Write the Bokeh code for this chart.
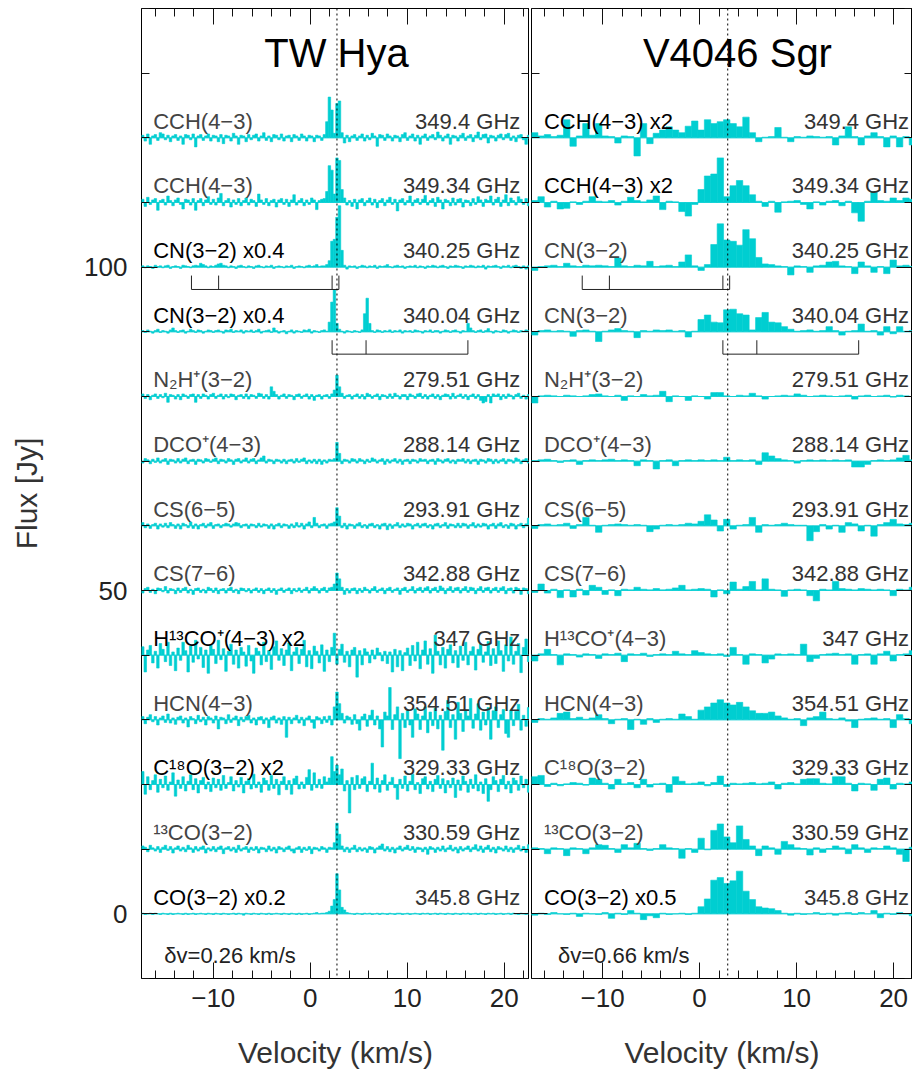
from bokeh.plotting import figure
from bokeh.models import Range1d, LinearAxis, SingleIntervalTicker, Span, ColumnDataSource
from bokeh.layouts import row
from bokeh.embed import file_html
from bokeh.resources import INLINE
from bokeh.core.properties import value

FONT = "Liberation Sans"
CYAN = "#00CED1"

# ---------------- data ----------------
offsets = [0, 10, 20, 30, 40, 50, 60, 70, 80, 90, 100, 110, 120]
freq_labels = ["345.8 GHz", "330.59 GHz", "329.33 GHz", "354.51 GHz", "347 GHz", "342.88 GHz",
               "293.91 GHz", "288.14 GHz", "279.51 GHz", "340.04 GHz", "340.25 GHz",
               "349.34 GHz", "349.4 GHz"]
tw_names = ["CO(3\u22122) x0.2", "\u00b9\u00b3CO(3\u22122)", "C\u00b9\u2078O(3\u22122) x2", "HCN(4\u22123)",
            "H\u00b9\u00b3CO\u207a(4\u22123) x2", "CS(7\u22126)", "CS(6\u22125)", "DCO\u207a(4\u22123)",
            "N\u2082H\u207a(3\u22122)", "CN(3\u22122) x0.4", "CN(3\u22122) x0.4", "CCH(4\u22123)", "CCH(4\u22123)"]
v4_names = ["CO(3\u22122) x0.5", "\u00b9\u00b3CO(3\u22122)", "C\u00b9\u2078O(3\u22122)", "HCN(4\u22123)",
            "H\u00b9\u00b3CO\u207a(4\u22123)", "CS(7\u22126)", "CS(6\u22125)", "DCO\u207a(4\u22123)",
            "N\u2082H\u207a(3\u22122)", "CN(3\u22122)", "CN(3\u22122)", "CCH(4\u22123) x2", "CCH(4\u22123) x2"]
tw_scaled = [True, False, True, False, True, False, False, False, False, True, True, False, False]
v4_scaled = [True, False, False, False, False, False, False, False, False, False, False, True, True]

tw_title = "TW Hya"
v4_title = "V4046 Sgr"
tw_vsys = 2.75
v4_vsys = 2.9
tw_v0, tw_dv = -17.4, 0.26
v4_v0, v4_dv = -17.33, 0.66
tw_dv_label = "\u03b4v=0.26 km/s"
v4_dv_label = "\u03b4v=0.66 km/s"

# CN hyperfine component offsets from systemic velocity (km/s)
cn_hfs_340_25 = [-15.0, -12.2, -0.5, 0.2]
cn_hfs_340_04 = [-0.5, 3.0, 13.5]

# ---- TW Hya spectra (Jy, channel 0.26 km/s) ----
tw_co = [0.1,-0.1,0.0,0.1,-0.1,0.1,0.0,-0.1,0.1,0.0,-0.1,0.1,-0.1,0.0,
         0.1,0.0,-0.1,0.1,-0.1,0.0,0.1,-0.1,0.0,0.1,0.0,-0.1,0.1,0.0,
         -0.1,0.1,0.0,-0.1,0.1,0.0,-0.1,0.0,0.1,-0.1,0.1,0.0,-0.2,0.1,
         0.0,-0.1,0.1,0.0,-0.1,0.1,0.0,-0.1,0.1,-0.1,0.0,0.1,0.0,-0.1,
         0.1,0.0,-0.1,0.1,0.0,-0.1,0.1,-0.1,0.0,0.1,-0.1,0.0,0.1,0.2,
         0.0,0.1,0.1,0.2,0.4,1.2,2.2,6.2,3.7,1.0,0.6,0.2,0.1,0.0,
         -0.1,0.1,0.0,-0.1,0.1,0.0,0.1,-0.1,0.0,0.1,-0.1,0.1,0.0,-0.1,
         0.1,0.0,-0.1,0.1,0.1,-0.1,0.0,0.1,-0.1,0.0,0.1,0.0,-0.1,0.1,
         0.0,0.1,-0.1,0.0,0.1,-0.1,0.1,0.0,-0.1,0.1,0.0,-0.1,0.1,0.0,
         -0.1,0.1,0.0,0.1,-0.1,0.0,0.1,-0.1,0.1,0.0,-0.1,0.1,0.0,0.1,
         -0.1,0.0,0.1,-0.1,0.0,0.1,-0.1,0.1,0.0,-0.1,0.1,0.0,-0.1,0.1]
tw_13co = [0.5,0.3,-0.4,0.6,0.2,-0.3,0.4,-0.5,0.3,0.6,-0.2,0.4,-0.6,0.2,
           0.5,-0.3,0.3,-0.4,0.6,0.2,-0.5,0.4,-0.3,0.3,0.5,-0.6,0.2,-0.3,
           0.4,-0.4,0.3,0.5,-0.7,0.2,0.4,-0.3,0.3,-0.5,0.6,-0.3,0.2,0.4,
           -0.5,0.3,-0.2,0.4,-0.6,0.3,0.2,-0.4,0.5,-0.3,0.3,-0.6,0.4,0.2,
           -0.4,0.3,0.5,-0.3,-0.6,0.2,0.4,-0.5,0.3,-0.2,0.4,-0.7,0.3,0.2,
           -0.3,0.4,0.2,-0.5,0.3,0.2,1.0,4.0,2.3,0.5,-0.4,0.3,-0.5,0.2,
           0.6,-0.4,0.3,-0.3,0.2,-0.5,0.4,0.3,-0.6,0.2,0.5,0.8,-0.3,0.4,
           -0.4,0.3,-0.6,0.2,0.5,-0.3,0.3,0.6,-0.2,0.4,-0.5,0.3,0.2,-0.4,
           0.3,-0.8,0.4,0.2,-0.5,0.3,-0.3,0.5,-0.4,0.2,0.6,-0.3,0.3,-0.6,
           0.4,-0.3,0.2,0.5,-0.4,0.3,0.7,-0.3,0.5,-0.5,0.3,0.6,-0.4,0.3,
           -0.6,0.4,0.2,-0.3,0.5,-0.4,0.3,-0.5,0.2,0.6,-0.3,0.4,-0.5,0.7]
tw_c18o = [2.0,-1.5,1.2,-0.8,0.6,1.5,-1.2,0.8,-0.5,1.3,-0.9,0.4,1.8,-1.8,
           0.7,-0.6,1.2,-1.0,0.5,1.5,-0.8,0.9,-1.3,0.6,1.1,-0.7,0.4,-1.1,
           1.0,-0.5,0.8,-0.9,1.4,-0.6,0.3,1.2,-1.0,0.6,-0.4,1.1,-1.3,0.5,
           0.9,-0.7,1.6,-0.5,0.4,-1.2,1.0,0.6,-0.9,1.4,-0.6,0.8,-1.6,0.5,
           1.2,-0.8,0.6,-1.5,0.9,1.3,-0.7,0.4,-0.6,1.1,2.3,-0.9,1.8,-0.5,
           0.8,-0.6,1.2,0.4,1.0,4.3,2.0,3.0,1.5,2.4,-1.0,0.6,-4.4,1.1,
           -0.8,1.4,-0.6,0.9,1.2,-1.1,0.5,3.3,-0.7,1.0,-1.2,0.6,1.5,-0.9,
           0.4,1.1,-0.5,-2.3,0.8,-0.6,1.3,-1.0,0.5,1.6,-0.8,0.3,-1.4,0.9,
           1.2,-0.7,0.5,-1.1,0.8,1.4,-0.6,0.9,-1.3,0.6,-0.5,1.0,-2.0,0.7,
           -0.9,1.3,0.5,-1.2,0.8,-0.6,1.5,-1.0,0.4,-1.4,0.9,-2.6,-0.8,1.2,
           0.6,-1.1,0.8,1.4,-0.7,0.5,-1.3,1.0,0.6,-0.9,1.3,-0.5,0.8,-1.2]
tw_hcn = [0.5,-0.6,0.4,0.8,-0.3,0.5,-0.8,0.3,0.6,-0.4,0.9,-0.5,0.3,-0.7,
          0.4,0.6,-0.5,0.3,-1.1,0.5,0.2,-0.6,0.7,-0.3,0.4,-0.8,0.5,0.3,
          -0.5,0.6,-1.4,0.4,0.3,-0.6,0.8,-0.4,0.3,0.6,-0.9,0.4,-0.3,0.5,
          0.7,-0.5,0.3,-0.8,0.4,0.5,-0.6,0.3,-1.2,0.4,0.6,-0.5,0.3,-0.7,
          0.5,-2.7,0.4,-0.6,0.3,0.7,-0.5,0.4,-0.9,0.3,0.6,-0.4,-1.3,0.5,
          0.3,-0.6,0.5,-0.4,0.6,-0.8,2.0,4.3,2.5,1.0,-0.5,0.6,0.4,-0.7,
          0.8,-0.6,-1.6,0.5,0.9,-1.0,0.7,1.5,-0.8,0.6,-1.4,-4.2,1.2,0.6,
          5.0,-1.5,0.8,2.0,-6.0,1.0,-1.2,1.4,-0.8,-2.7,1.7,0.9,-1.5,0.6,
          2.0,-2.0,1.2,-0.9,1.8,-1.4,0.7,-4.7,1.3,3.0,-1.2,0.8,-3.0,2.7,
          1.0,-1.8,1.5,0.6,3.3,-1.3,0.9,2.5,-1.6,1.2,-0.8,1.9,-3.0,1.4,
          2.0,-1.2,0.8,1.6,-2.1,-2.7,1.5,-0.9,1.3,2.4,-1.6,0.7,-1.0,1.9]
tw_h13cop = [1.3,-2.6,0.8,1.5,-1.2,0.6,-2.0,1.8,0.9,-1.0,2.0,-1.6,0.5,-2.4,
             1.1,-0.8,2.0,0.7,-2.6,1.4,-1.1,2.3,-0.6,1.2,-1.9,0.8,-2.8,1.6,
             0.9,-1.3,2.3,-0.7,1.0,-2.5,0.6,1.7,-1.4,0.8,-2.0,1.2,0.5,-1.7,
             1.5,-0.9,-2.8,1.1,0.6,-1.5,2.0,-1.0,0.7,-2.2,1.3,2.2,-0.8,1.0,
             -1.6,0.8,1.9,-2.4,0.5,1.2,-1.3,0.9,2.3,-1.8,0.7,-2.1,1.4,0.6,
             -1.2,1.6,-2.5,0.8,-1.0,1.2,3.4,-1.4,0.9,1.7,-1.1,0.6,-1.8,0.8,
             1.2,-3.4,0.7,-1.5,1.0,0.5,-1.2,0.8,-0.6,1.1,0.4,-0.9,0.6,-1.3,
             0.5,-2.6,0.9,-1.8,0.7,-2.4,0.4,1.1,-1.6,1.5,-0.9,2.0,-2.1,0.8,
             2.2,-1.4,1.0,-2.8,3.1,0.6,-1.5,1.2,-2.0,0.9,1.6,-1.2,0.7,-1.9,
             1.4,-0.8,2.0,-1.5,0.6,1.3,-2.3,0.9,1.7,-1.1,0.5,2.1,-1.6,1.0,
             -1.3,2.2,0.7,-2.5,1.6,-0.9,2.8,-1.4,0.6,1.8,-2.7,1.2,2.5,-1.0]
tw_cs76 = [-0.4,0.3,0.5,-0.3,0.2,-0.5,0.4,0.3,-0.2,0.6,-0.4,0.3,0.2,-0.5,
           0.4,-0.3,0.3,0.5,-0.4,0.2,-0.6,0.3,0.4,-0.3,0.2,-0.4,0.5,0.3,
           -0.3,0.4,-0.5,0.2,0.3,-0.4,0.3,0.5,-0.3,0.2,-0.5,0.4,0.3,-0.2,
           0.3,-0.4,0.2,0.4,-0.3,0.3,-0.5,0.2,0.4,-0.3,0.3,-0.6,0.2,0.4,
           -0.3,0.2,0.4,-0.5,0.3,-0.2,0.4,-0.3,0.2,0.5,-0.4,0.3,0.6,0.3,
           -0.4,0.3,0.5,-0.3,0.4,0.5,1.0,2.7,1.8,0.5,-0.6,0.3,-0.4,0.3,
           0.4,-0.5,0.3,-0.3,0.5,0.2,-0.4,0.3,0.6,-0.3,0.2,0.4,-0.5,0.3,
           0.5,-0.3,0.2,0.4,-0.6,0.3,0.5,-0.3,0.2,0.6,-0.4,0.3,0.5,-0.3,
           0.4,0.6,-0.4,0.3,0.5,-0.3,0.7,0.4,-0.5,0.3,0.6,-0.3,0.4,0.5,
           -0.4,0.3,0.6,-0.3,0.5,0.4,-0.5,0.3,0.6,-0.3,0.4,0.5,-0.4,0.3,
           0.5,-0.3,0.4,0.6,-0.5,0.3,0.4,-0.4,0.5,0.3,-0.6,0.4,0.3,-0.5]
tw_cs65 = [0.5,-0.3,0.3,-0.4,0.2,0.4,-0.5,0.3,-0.2,0.4,-0.3,0.5,0.2,-0.4,
           0.3,-0.5,0.4,0.2,-0.3,0.6,-0.4,0.3,-0.5,0.2,0.4,-0.3,0.3,0.5,
           -0.4,0.2,0.3,-0.3,0.2,0.4,0.3,-0.2,0.3,0.5,0.4,-0.3,0.2,0.3,
           -0.4,0.3,0.2,-0.3,0.4,-0.2,0.3,0.2,-0.4,0.3,-0.5,0.2,0.4,-0.3,
           0.3,0.2,-0.4,0.3,-0.3,0.5,-0.2,0.4,-0.5,0.3,0.6,-0.3,1.3,0.4,
           -0.3,0.2,0.3,-0.4,0.3,0.4,0.6,2.8,1.5,-0.3,0.4,-0.5,0.3,0.2,
           -0.4,0.3,0.5,-0.3,0.2,-0.4,0.3,0.4,-0.3,0.2,-0.5,0.3,0.4,-0.6,
           0.3,-0.4,0.2,0.5,-0.3,0.3,-0.2,0.4,0.3,-0.5,0.2,0.4,-0.3,0.3,
           0.4,-0.3,0.2,-0.5,0.3,0.4,-0.3,0.2,0.5,-0.4,0.3,0.2,-0.3,0.4,
           -0.3,0.4,0.3,-0.4,0.2,0.5,-0.3,0.3,-0.2,0.4,0.3,-0.5,0.2,0.4,
           -0.4,0.3,0.5,-0.3,0.2,-0.4,0.4,0.3,-0.5,0.2,0.4,-0.3,0.3,1.2]
tw_dcop = [-0.3,0.4,0.2,-0.4,0.3,-0.2,0.5,-0.3,0.2,0.4,-0.5,0.3,0.2,-0.3,
           0.4,-0.3,0.3,0.5,-0.4,0.2,0.3,-0.5,0.3,0.2,-0.3,0.4,0.3,-0.2,
           0.3,0.5,-0.4,0.3,0.2,-0.3,0.4,0.2,-0.5,0.3,0.4,-0.3,0.2,0.5,
           -0.3,0.3,0.4,-0.4,0.2,0.5,0.8,-0.3,0.3,0.2,-0.4,0.3,0.2,-0.3,
           0.3,-0.4,0.2,0.3,-0.3,0.4,-0.2,0.3,0.5,-0.4,0.2,-0.3,0.3,-0.4,
           0.3,-0.5,0.2,-0.3,0.3,0.2,0.4,2.9,1.2,-0.4,0.3,0.2,-0.3,0.4,
           0.3,-0.3,0.4,0.2,-0.4,0.3,-0.2,0.5,0.3,-0.3,0.2,0.4,-0.5,0.3,
           -0.3,0.2,0.4,-0.3,0.3,-0.5,0.2,0.3,-0.4,0.3,0.2,-0.3,0.4,0.2,
           0.3,-0.4,0.2,0.3,-0.5,0.4,0.2,-0.3,0.3,0.4,-0.3,0.2,-0.4,0.3,
           0.2,0.4,-0.3,0.3,-0.4,0.2,0.3,-0.5,0.3,0.2,-0.3,0.4,0.3,-0.4,
           0.3,-0.3,0.2,0.4,-0.4,0.3,0.2,-0.3,0.5,0.3,-0.4,0.2,0.4,-0.3]
tw_n2hp = [0.4,-0.3,0.3,-0.5,0.2,0.4,-0.3,0.3,-0.2,0.5,-0.9,0.3,0.2,-0.4,
           0.3,-0.5,0.4,0.2,-0.3,0.3,0.4,-0.9,0.3,-0.3,0.4,0.2,-0.4,0.3,
           0.5,-0.3,0.2,0.4,-0.4,0.3,-0.2,0.4,0.3,-0.5,0.2,0.3,-0.3,0.4,
           -0.4,0.3,0.2,-0.3,0.5,0.4,-0.3,0.3,-0.4,1.5,0.8,0.3,-0.4,0.2,
           0.4,-0.3,0.3,0.2,-0.5,0.3,0.4,-0.3,0.2,0.4,-0.4,0.3,-0.6,0.2,
           0.3,-0.4,0.2,0.3,-0.3,0.4,1.0,3.3,1.5,0.5,-0.3,0.2,0.3,-0.4,
           0.2,0.4,-0.3,0.3,-0.4,0.5,0.3,-0.3,0.2,0.4,-0.5,0.3,0.2,-0.3,
           0.4,-0.3,0.5,0.2,-0.4,0.3,0.3,-0.5,0.4,0.2,-0.3,0.4,0.5,-0.3,
           0.3,-0.4,0.2,0.4,-0.3,0.3,-0.5,0.2,0.4,0.3,-0.4,0.5,-0.3,0.2,
           0.4,-0.3,0.3,-0.5,0.2,0.4,-0.3,0.3,-0.6,-1.0,-0.8,0.3,-1.0,0.4,
           0.2,0.4,-0.5,0.3,-0.3,0.4,0.2,-0.4,0.3,0.5,-0.3,0.2,-0.4,0.3]
tw_cn04 = [0.2,-0.1,0.3,0.1,-0.2,0.2,0.4,-0.1,0.2,0.1,-0.2,0.3,0.6,0.2,
           -0.1,0.2,0.3,-0.2,0.1,0.4,0.2,-0.1,0.3,0.2,-0.2,0.1,0.3,0.2,
           -0.1,0.2,0.3,0.1,-0.2,0.3,0.2,0.4,-0.1,0.2,0.1,0.3,-0.2,0.2,
           0.1,0.3,-0.1,0.2,0.4,-0.2,0.1,0.2,0.3,-0.1,0.6,0.2,-0.2,0.1,
           0.2,-0.3,0.1,0.3,-0.2,0.2,0.1,-0.1,0.3,0.2,0.4,-0.2,0.2,0.1,
           -0.1,0.2,0.3,0.1,1.5,4.6,6.5,1.3,0.4,0.1,-0.2,0.2,0.1,-0.1,
           0.2,0.1,-0.1,0.3,2.8,5.2,1.3,0.2,-0.1,0.3,0.2,-0.1,0.2,0.1,
           0.3,-0.1,0.2,0.1,0.3,-0.2,0.2,0.1,0.2,-0.1,0.3,0.2,0.1,-0.2,
           0.2,0.1,0.3,-0.1,0.2,0.2,-0.2,0.1,0.3,0.2,-0.1,0.2,0.3,0.1,
           -0.2,0.2,0.1,1.3,0.6,0.2,-0.1,0.2,0.3,-0.1,0.2,0.5,0.1,-0.2,
           0.2,0.1,-0.1,0.3,0.2,-0.2,0.1,0.3,0.2,-0.1,0.2,0.1,0.3,0.2]
tw_cn25 = [0.2,-0.1,0.2,0.1,-0.2,0.3,0.1,0.2,-0.1,0.2,0.3,-0.2,0.1,0.2,
           0.1,-0.2,0.3,0.2,0.1,-0.1,0.2,0.3,0.2,0.6,0.4,0.2,-0.1,0.2,
           0.1,0.3,0.5,0.6,0.3,0.2,-0.1,0.2,0.1,-0.2,0.2,0.3,0.1,-0.1,
           0.2,0.1,-0.2,0.2,0.3,0.1,-0.1,0.2,0.1,0.3,-0.2,0.1,0.2,0.1,
           -0.1,0.2,0.1,0.3,-0.2,0.1,0.2,0.1,-0.1,0.2,0.3,0.1,0.2,0.4,
           0.1,0.2,0.2,0.4,1.0,4.0,4.3,7.7,9.5,2.6,0.3,-0.3,0.2,0.1,
           0.2,-0.2,0.1,0.3,0.2,-0.1,0.2,0.1,0.3,-0.2,0.2,0.1,0.2,0.4,
           0.1,-0.1,0.2,0.3,0.1,0.2,-0.2,0.1,0.2,0.1,0.3,-0.1,0.2,0.1,
           -0.2,0.2,0.1,0.3,0.2,-0.1,0.2,0.3,0.1,-0.2,0.2,0.1,0.3,0.2,
           0.1,-0.2,0.2,0.1,0.3,0.2,-0.1,0.2,0.1,0.3,-0.3,0.2,0.1,0.2,
           0.3,0.1,-0.2,0.2,0.1,0.3,-0.1,0.2,0.3,0.1,-0.2,0.2,-0.3,0.2]
tw_cch34 = [0.5,-0.6,0.8,-0.3,0.4,0.6,-1.2,0.3,0.5,-0.4,1.0,0.3,-0.5,0.4,
            0.7,-0.3,-1.0,0.5,0.4,-0.4,0.6,-1.2,0.3,0.6,-0.5,0.4,0.9,-0.3,
            0.5,-0.4,0.7,1.4,-0.5,0.3,0.6,-0.7,0.4,-0.3,0.6,-0.5,0.3,0.7,
            -0.4,0.5,0.3,-0.6,1.3,0.4,-0.3,0.6,-0.5,0.3,0.5,-0.7,0.4,0.6,
            -0.3,0.5,-0.6,0.4,1.2,-0.4,0.3,0.6,-0.5,0.4,-0.3,0.7,0.4,-1.1,
            0.3,0.5,0.6,1.7,5.7,5.0,1.3,6.9,6.5,2.0,0.7,-0.4,0.3,-0.6,
            0.5,-1.0,0.4,0.6,-0.5,0.3,0.7,-0.4,0.5,-0.8,0.3,0.6,-0.5,0.4,
            0.8,-0.3,0.5,-1.3,0.4,0.6,-0.4,0.3,1.0,-0.5,0.4,0.6,-0.3,0.5,
            1.1,-0.4,0.3,0.6,-0.6,0.8,0.4,-1.0,0.5,0.3,-0.5,0.7,-0.4,0.5,
            0.6,-0.7,0.4,0.3,-0.5,0.6,-0.3,0.9,0.4,-0.6,0.5,0.3,1.0,-0.4,
            0.5,0.8,-0.6,0.4,1.2,-0.5,0.7,0.3,-0.4,0.9,0.5,-0.3,0.6,-0.5]
tw_cch40 = [0.4,-0.5,0.6,-1.0,0.3,0.5,-0.4,0.8,0.6,-0.3,0.4,-0.6,0.3,0.5,
            -0.4,0.3,-1.0,0.5,0.4,-0.3,0.6,-1.4,0.3,0.5,-0.4,0.3,0.6,-0.5,
            0.4,0.3,-0.6,0.5,-0.9,0.4,0.3,-0.5,0.7,0.3,-1.0,0.4,0.3,-0.6,
            0.5,-0.3,0.4,0.6,-0.5,0.3,0.8,-0.4,0.3,-0.6,0.5,0.4,-0.3,0.6,
            -0.5,0.3,0.4,-0.6,0.5,0.3,-0.4,0.6,0.3,-0.5,0.4,0.3,-0.6,0.4,
            0.3,-0.4,0.5,2.5,6.3,4.3,0.7,5.3,5.7,0.8,-0.8,0.4,-0.6,0.3,
            0.5,-0.4,0.3,0.6,-0.5,0.4,-0.3,0.7,0.3,-1.3,0.5,0.4,-0.4,0.6,
            0.3,-0.5,0.4,0.3,-0.6,0.5,0.8,-0.4,0.3,0.6,-0.5,0.4,-1.0,0.3,
            0.6,-0.4,0.3,0.5,-0.3,0.9,0.4,-0.5,0.3,0.6,-1.0,0.4,0.3,-0.5,
            0.4,0.7,-0.4,0.3,0.5,-0.6,0.4,0.9,-0.3,0.5,0.6,-0.8,0.4,0.3,
            -0.5,0.4,0.6,-0.3,0.5,0.7,-0.4,0.3,-0.6,0.4,0.5,-0.3,-1.0,0.4]

# ---- V4046 Sgr spectra (Jy, channel 0.66 km/s) ----
v4_co = [-0.2,0.1,-0.1,0.2,0.0,-0.1,0.1,-0.4,0.1,0.0,
         -0.1,0.2,-0.7,0.1,-0.1,0.5,0.1,-0.9,-0.3,-0.6,
         0.1,-0.1,0.0,0.1,-0.1,0.1,1.1,2.3,5.2,5.6,
         4.7,5.1,6.6,3.5,2.2,1.1,0.9,0.8,0.5,0.1,
         -0.2,0.1,-0.1,0.0,0.2,-0.1,0.1,-0.2,0.1,0.2,
         -0.1,0.2,0.0,0.5,-0.6,0.1,-0.1,0.2,0.0,-0.3,
         -0.1]
v4_13co = [0.2,0.1,-0.7,0.2,0.1,-1.0,0.2,0.1,-0.7,0.2,
           0.7,0.6,0.1,-0.5,0.7,0.2,0.9,0.1,-0.2,0.1,
           0.7,0.2,0.1,-1.4,0.1,-0.5,1.7,-0.1,2.9,3.9,
           1.9,1.0,3.6,1.5,0.5,-1.0,0.5,0.2,-0.8,1.2,
           0.7,0.2,0.1,-0.9,0.2,-0.5,0.1,0.5,0.2,-0.7,
           0.7,0.2,-0.5,0.2,0.1,0.5,0.2,-0.8,-1.9,0.3,
           0.2]
v4_c18o = [1.2,1.4,-0.3,0.2,-0.2,0.1,0.3,0.2,-0.1,1.0,
           0.8,0.2,-0.7,0.8,0.1,0.3,-0.5,0.8,-0.4,0.1,
           0.2,-1.2,1.2,0.5,0.1,0.2,0.4,-0.2,0.3,1.3,
           -0.3,0.2,0.1,0.2,0.3,0.1,0.2,0.4,-0.7,0.2,
           0.3,0.1,0.8,0.9,0.9,0.2,0.1,1.2,1.2,0.2,
           -1.0,0.2,0.1,-0.9,0.8,1.0,-0.7,0.2,0.1,0.4,
           0.3]
v4_hcn = [-0.4,0.2,0.1,0.3,1.0,1.2,0.2,0.4,0.1,0.3,
          0.8,0.2,-0.6,0.1,0.2,-1.5,0.1,-0.7,0.2,-0.4,
          0.1,0.2,0.1,0.9,0.5,0.1,1.5,2.0,2.6,3.1,
          2.6,2.3,2.7,2.0,1.4,1.0,1.0,1.2,0.6,0.3,
          0.1,0.2,-0.9,0.3,0.5,1.2,0.2,0.1,0.3,-0.2,
          -1.2,0.1,0.2,0.3,0.1,0.2,-1.2,0.8,0.2,-0.6,
          0.2]
v4_h13cop = [-0.9,0.2,0.9,0.1,-1.5,0.2,0.1,-0.3,0.2,0.1,
             -0.5,0.2,0.1,0.3,-1.0,0.2,0.1,0.3,-0.2,0.1,
             0.2,0.1,0.6,0.2,0.1,0.7,0.4,0.2,0.1,0.2,
             -0.2,1.2,0.1,-1.4,0.2,0.1,-1.2,-0.6,0.2,0.1,
             0.2,0.1,1.7,-1.0,-0.5,0.1,0.2,0.3,0.1,0.2,
             -1.4,0.1,0.2,-1.4,0.2,0.6,-0.9,0.1,0.2,0.7,
             0.2]
v4_cs76 = [-0.3,1.0,-0.4,0.2,-1.1,0.1,-1.0,0.2,-0.7,0.8,
           0.5,-0.6,0.1,-0.8,0.2,0.1,0.5,0.2,0.1,0.3,
           0.1,0.2,0.4,0.8,0.1,0.2,0.3,0.2,-1.0,0.1,
           -0.5,1.3,0.2,0.6,1.4,0.1,1.8,0.2,0.1,-0.9,
           0.1,0.2,0.1,-0.8,-1.6,0.2,0.1,1.4,0.3,0.2,
           0.1,0.3,0.2,0.1,0.2,0.1,-0.8,0.2,0.1,0.5,
           0.2]
v4_cs65 = [-0.4,0.2,0.3,0.1,0.2,0.4,-0.4,0.2,1.3,0.1,
           -1.0,0.1,0.2,0.3,0.2,0.1,0.2,0.1,-0.9,-0.5,
           0.1,0.2,0.1,0.2,0.4,0.3,0.7,1.7,0.9,-0.8,
           1.0,-0.5,0.1,0.2,1.3,-1.0,0.2,0.1,0.2,0.4,
           0.2,0.1,0.1,-2.3,-0.9,0.2,-0.5,0.1,-1.0,0.5,
           0.3,-0.8,0.1,-1.6,0.2,0.5,1.0,0.3,0.2,0.4,
           0.2]
v4_dcop = [0.1,0.2,0.3,0.1,-0.2,0.1,0.2,-0.5,0.1,0.2,
           0.1,0.2,0.3,0.1,0.2,0.1,-0.7,0.2,0.1,-1.2,
           0.1,0.2,-0.7,0.1,0.2,0.1,0.2,0.1,0.2,0.1,
           0.6,0.1,0.2,0.1,0.2,-0.5,1.3,0.8,0.4,0.2,
           0.1,-0.3,0.1,0.2,0.1,0.2,0.1,0.2,0.1,0.2,
           -0.9,-0.9,-0.5,0.1,0.2,0.1,0.2,0.5,0.9,0.2,
           0.1]
v4_n2hp = [-1.0,0.1,0.2,0.1,0.0,0.2,0.1,0.0,0.1,0.3,
           0.4,0.1,0.0,0.2,-0.6,0.1,0.0,0.3,0.1,0.2,
           0.8,-0.8,0.1,0.0,-0.6,0.1,0.0,-0.4,0.6,0.6,
           0.1,0.0,0.2,0.1,0.5,0.1,-0.4,0.0,0.1,0.2,
           0.1,0.4,0.2,0.0,0.1,0.2,0.1,0.0,0.1,0.2,
           -0.4,0.1,0.2,0.0,0.1,0.2,-0.1,0.2,0.1,0.0,
           0.1]
v4_cn04 = [-0.5,0.2,0.3,0.1,0.2,0.1,-0.7,0.2,0.3,0.1,
           -1.5,0.1,0.3,0.5,0.2,0.1,-0.9,0.2,0.1,0.3,
           0.2,0.3,0.1,0.2,-0.8,0.1,1.9,2.6,1.5,1.4,
           3.4,3.5,2.8,2.6,0.3,2.2,3.0,1.5,1.4,0.8,
           0.4,0.1,0.2,0.3,0.1,0.2,0.8,0.2,-0.5,0.1,
           0.2,1.2,0.1,0.2,-0.5,0.8,-0.3,0.8,0.1,0.2,
           0.1]
v4_cn25 = [-0.5,0.1,0.2,0.3,0.1,0.6,0.2,0.1,0.3,0.2,
           0.3,0.2,0.1,1.4,0.2,0.1,0.3,0.2,0.9,0.1,
           0.2,0.3,0.1,0.8,1.9,0.2,-0.5,0.4,3.5,6.7,
           4.2,4.0,3.4,5.8,4.4,1.5,0.5,0.4,0.2,0.1,
           -1.2,0.2,0.1,-0.8,0.2,0.3,0.8,0.9,0.2,0.1,
           -1.0,0.8,0.2,-0.8,0.1,-1.0,1.1,0.2,0.3,0.1,
           0.2]
v4_cch34 = [0.3,0.9,-0.7,0.2,-1.0,-0.9,0.1,-0.3,0.2,0.9,
            0.2,0.1,0.3,-0.4,0.2,0.8,0.3,0.1,0.4,1.0,
            -1.1,0.2,0.1,-1.4,-2.1,-0.3,2.0,4.1,4.4,6.9,
            0.9,2.6,3.4,2.6,1.2,0.2,-0.6,0.2,-1.5,0.1,
            0.2,0.3,-0.3,-1.0,0.1,-0.4,0.2,0.3,-0.5,0.2,
            -1.6,-2.9,0.2,1.7,0.3,0.2,0.7,0.3,0.7,0.5,
            0.4]
v4_cch40 = [0.8,0.3,0.5,0.2,0.4,2.8,-1.3,0.3,2.2,0.4,
            2.2,0.3,0.2,-0.8,0.3,0.2,-2.8,2.2,-0.9,0.7,
            1.2,1.7,1.2,0.8,1.8,2.6,1.2,2.8,2.2,2.5,
            2.8,2.2,1.7,3.2,0.8,-0.6,0.1,0.2,1.6,0.1,
            -0.6,0.2,0.1,0.3,0.2,0.1,0.2,-1.1,0.3,1.7,
            0.2,-1.1,0.3,0.8,0.2,-1.4,0.3,-1.4,0.2,-1.1,
            0.3]

tw_spectra = [tw_co, tw_13co, tw_c18o, tw_hcn, tw_h13cop, tw_cs76, tw_cs65,
              tw_dcop, tw_n2hp, tw_cn04, tw_cn25, tw_cch34, tw_cch40]
v4_spectra = [v4_co, v4_13co, v4_c18o, v4_hcn, v4_h13cop, v4_cs76, v4_cs65,
              v4_dcop, v4_n2hp, v4_cn04, v4_cn25, v4_cch34, v4_cch40]

# ---------------- drawing ----------------
PX_PER_KMS = 9.7
TOP_BORDER = 8
FRAME_H = 970
TOTAL_H = 1078
LEFT_BORDER = 141
P1_W = 529
P2_W = 383
LABEL_LIFT = 2.6


def style_axis(ax, show_labels):
    ax.major_tick_in = 16
    ax.major_tick_out = 0
    ax.minor_tick_in = 8
    ax.minor_tick_out = 0
    ax.axis_line_color = None
    ax.major_tick_line_color = "#111111"
    ax.minor_tick_line_color = "#111111"
    ax.major_label_text_font = FONT
    if show_labels:
        ax.major_label_text_font_size = "26px"
        ax.major_label_text_color = "#222222"
    else:
        ax.major_label_text_font_size = "1px"
        ax.major_label_text_color = None
        ax.major_label_standoff = 0
    ax.axis_label_text_font = FONT
    ax.axis_label_text_font_style = "normal"
    ax.axis_label_text_font_size = "30px"
    ax.axis_label_text_color = "#333333"


def xticker():
    return SingleIntervalTicker(interval=10, num_minor_ticks=5)


def yticker():
    return SingleIntervalTicker(interval=50, num_minor_ticks=5)


def build_panel(fig, spectra, names, scaled, v0, dv, vsys, title, title_x, dv_label, dv_x,
                xl, xr):
    fig.xgrid.visible = False
    fig.ygrid.visible = False
    fig.outline_line_color = "black"
    fig.outline_line_width = 1
    fig.background_fill_color = "white"
    fig.border_fill_color = "white"

    for vals, off in zip(spectra, offsets):
        n = len(vals)
        src = ColumnDataSource(dict(
            left=[v0 + dv * i for i in range(n)],
            right=[v0 + dv * (i + 1) for i in range(n)],
            bottom=[off] * n,
            top=[off + y for y in vals]))
        fig.quad(left="left", right="right", bottom="bottom", top="top", source=src,
                 fill_color=CYAN, line_color=CYAN, line_width=0.6)
        fig.line([v0, v0 + dv * n], [off, off], line_color=CYAN, line_alpha=0.55, line_width=1)

    # CN hyperfine brackets
    for hfs, off in ((cn_hfs_340_25, 100), (cn_hfs_340_04, 90)):
        xs = [vsys + h for h in hfs]
        ybar = off - 3.45
        ytop = off - 1.3
        fig.line([min(xs), max(xs)], [ybar, ybar], line_color="#222222", line_width=1)
        fig.segment(x0=xs, y0=[ybar] * len(xs), x1=xs, y1=[ytop] * len(xs),
                    line_color="#222222", line_width=1)

    fig.add_layout(Span(location=vsys, dimension="height", line_color="black",
                        line_dash="2 3", line_width=1))

    colors = ["black" if s else "#444444" for s in scaled]
    lsrc = ColumnDataSource(dict(x=[xl] * len(names), y=[o + LABEL_LIFT for o in offsets],
                                 text=names, color=colors))
    fig.text(x="x", y="y", text="text", text_color="color", source=lsrc,
             text_font=value(FONT), text_font_size="22px", text_align="left",
             text_baseline="alphabetic")
    fsrc = ColumnDataSource(dict(x=[xr] * len(freq_labels), y=[o + LABEL_LIFT for o in offsets],
                                 text=freq_labels))
    fig.text(x="x", y="y", text="text", text_color="#333333", source=fsrc,
             text_font=value(FONT), text_font_size="22px", text_align="right",
             text_baseline="alphabetic")
    fig.text(x=[title_x], y=[133.1], text=[title], text_color="black",
             text_font=value(FONT), text_font_size="40px", text_align="center",
             text_baseline="middle")
    fig.text(x=[dv_x], y=[-6.5], text=[dv_label], text_color="#222222",
             text_font=value(FONT), text_font_size="22px", text_align="left",
             text_baseline="alphabetic")


BOTTOM_BORDER = TOTAL_H - TOP_BORDER - FRAME_H

p1_frame_w = P1_W - LEFT_BORDER
p1 = figure(width=P1_W, height=TOTAL_H,
            x_range=Range1d(tw_v0, tw_v0 + p1_frame_w / PX_PER_KMS),
            y_range=Range1d(-10, 140),
            output_backend="svg", toolbar_location=None,
            min_border_left=LEFT_BORDER, min_border_right=0, min_border_top=TOP_BORDER,
            min_border_bottom=BOTTOM_BORDER)
build_panel(p1, tw_spectra, tw_names, tw_scaled, tw_v0, tw_dv, tw_vsys, tw_title, 2.7,
            tw_dv_label, -15.05, -16.2, 21.65)

p2_frame_w = P2_W - 2
p2 = figure(width=P2_W, height=TOTAL_H,
            x_range=Range1d(v4_v0, v4_v0 + p2_frame_w / PX_PER_KMS),
            y_range=p1.y_range,
            output_backend="svg", toolbar_location=None,
            min_border_left=2, min_border_right=0, min_border_top=TOP_BORDER,
            min_border_bottom=BOTTOM_BORDER)
build_panel(p2, v4_spectra, v4_names, v4_scaled, v4_v0, v4_dv, v4_vsys, v4_title, 3.9,
            v4_dv_label, -14.6, -16.05, 21.6)

for fig, show_y in ((p1, True), (p2, False)):
    xa = fig.xaxis[0]
    xa.ticker = xticker()
    style_axis(xa, True)
    xa.major_label_standoff = 10
    xa.axis_label = "Velocity (km/s)"
    xa.axis_label_standoff = 26
    xa.major_label_overrides = {-10: "\u221210", -20: "\u221220"}
    ya = fig.yaxis[0]
    ya.ticker = yticker()
    style_axis(ya, show_y)
    if show_y:
        ya.major_label_standoff = 14
        ya.axis_label = "Flux [Jy]"
        ya.axis_label_standoff = 38
    top = LinearAxis(ticker=xticker())
    style_axis(top, False)
    fig.add_layout(top, "above")
    right = LinearAxis(ticker=yticker())
    style_axis(right, False)
    fig.add_layout(right, "right")

layout = row(p1, p2)
open("out.html", "w").write(file_html(layout, INLINE))
